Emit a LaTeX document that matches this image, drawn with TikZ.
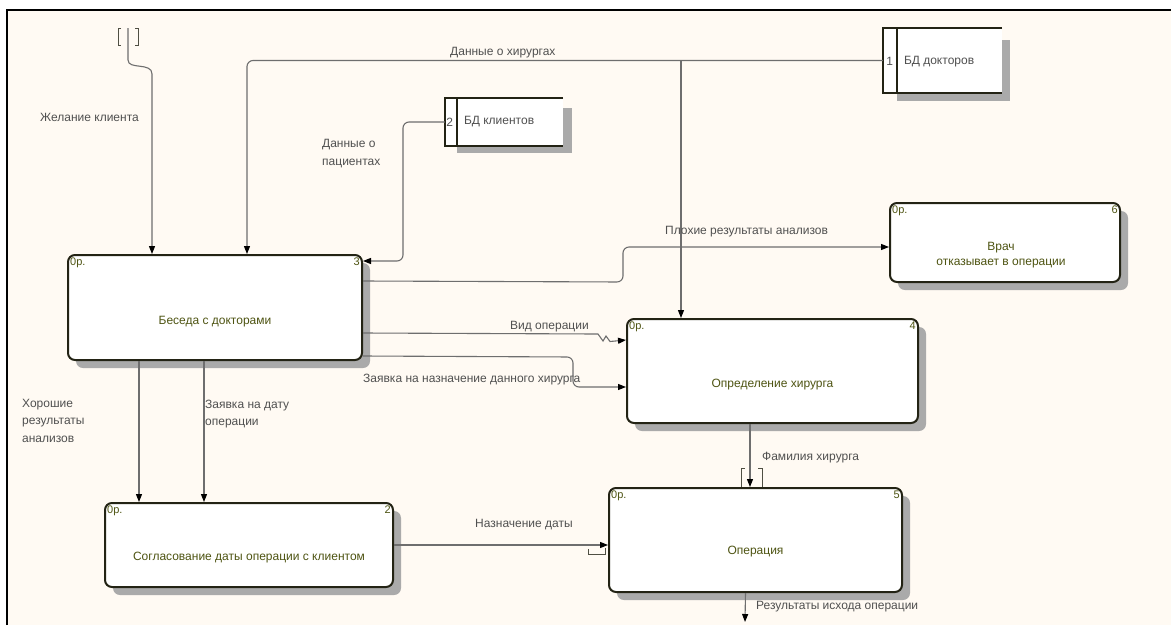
\documentclass[tikz,border=0pt]{standalone}
\usepackage{fontspec}
\setmainfont{Liberation Sans}
\usetikzlibrary{arrows.meta,shadows}
\definecolor{bgc}{RGB}{255,250,243}
\definecolor{linec}{RGB}{110,110,110}
\definecolor{boxc}{RGB}{35,35,20}
\definecolor{txtc}{RGB}{78,84,18}
\definecolor{lblc}{RGB}{80,80,80}
\definecolor{shc}{RGB}{170,170,170}
\begin{document}
\begin{tikzpicture}[x=1pt,y=-1pt,
  proc/.style={draw=boxc, line width=2pt, rounded corners=7pt, fill=white,
    drop shadow={shadow xshift=8pt, shadow yshift=-8pt, fill=shc, opacity=1},
    inner sep=0pt},
  store/.style={inner sep=0pt},
  ptxt/.style={font=\fontsize{12}{15}\selectfont, text=txtc, align=center, inner sep=0pt},
  cnr/.style={font=\fontsize{11}{12}\selectfont, text=txtc, inner sep=0pt},
  lbl/.style={font=\fontsize{12}{17.5}\selectfont, text=lblc, inner sep=0pt, align=left},
  flow/.style={draw=linec, line width=1.1pt, rounded corners=6pt,
    -{Triangle[length=8pt,width=6pt,color=black]}},
  brk/.style={draw=boxc!80, line width=1pt},
  stline/.style={draw=boxc, line width=1.8pt}
]
\useasboundingbox (0,0) rectangle (1171,625);
\fill[white] (0,0) rectangle (1171,625);
\fill[bgc] (7,10) rectangle (1171,625);
\draw[black, line width=2pt] (7,625) -- (7,10) -- (1171,10);

% ---------- data stores ----------
\node[store, minimum width=119pt, minimum height=64pt] (bd1) at (942.5,60.5) {};
\fill[shc] ([yshift=-12pt]bd1.north east) rectangle ([xshift=8pt,yshift=-8pt]bd1.south east);
\fill[shc] ([xshift=14pt]bd1.south west) rectangle ([xshift=8pt,yshift=-8pt]bd1.south east);
\fill[white] (bd1.north west) rectangle (bd1.south east);
\draw[stline] (bd1.north east) -- (bd1.north west) -- (bd1.south west) -- (bd1.south east);
\draw[stline] ([xshift=14pt]bd1.north west) -- ([xshift=14pt]bd1.south west);
\node[lbl] (bd1n) at ([xshift=7pt,yshift=-1pt]bd1.west) {1};
\node[lbl, anchor=west] (bd1t) at ([xshift=21pt,yshift=-1pt]bd1.west) {БД докторов};

\node[store, minimum width=118pt, minimum height=48pt] (bd2) at (504,122) {};
\fill[shc] ([yshift=-10pt]bd2.north east) rectangle ([xshift=9pt,yshift=-7pt]bd2.south east);
\fill[shc] ([xshift=12pt]bd2.south west) rectangle ([xshift=9pt,yshift=-7pt]bd2.south east);
\fill[white] (bd2.north west) rectangle (bd2.south east);
\draw[stline] (bd2.north east) -- (bd2.north west) -- (bd2.south west) -- (bd2.south east);
\draw[stline] ([xshift=12pt]bd2.north west) -- ([xshift=12pt]bd2.south west);
\node[lbl] (bd2n) at ([xshift=5pt]bd2.west) {2};
\node[lbl, anchor=west] (bd2t) at ([xshift=19pt]bd2.west) {БД клиентов};

% ---------- processes ----------
\node[proc, minimum width=294pt, minimum height=105pt] (p3) at (215,307.5) {};
\node[ptxt] (t3) at ([yshift=-14pt]p3.center) {Беседа с докторами};
\node[cnr, anchor=north west] (o3) at ([xshift=3pt,yshift=-4pt]p3.north west) {0р.};
\node[cnr, anchor=north east] (n3) at ([xshift=-3pt,yshift=-4pt]p3.north east) {3};

\node[proc, minimum width=230pt, minimum height=79pt] (p6) at (1005,242.5) {};
\node[ptxt] (t6) at ([xshift=-4pt,yshift=-13pt]p6.center) {Врач\\отказывает в операции};
\node[cnr, anchor=north west] (o6) at ([xshift=3pt,yshift=-4pt]p6.north west) {0р.};
\node[cnr, anchor=north east] (n6) at ([xshift=-3pt,yshift=-4pt]p6.north east) {6};

\node[proc, minimum width=291pt, minimum height=104pt] (p4) at (772.5,371) {};
\node[ptxt] (t4) at ([yshift=-14pt]p4.center) {Определение хирурга};
\node[cnr, anchor=north west] (o4) at ([xshift=3pt,yshift=-4pt]p4.north west) {0р.};
\node[cnr, anchor=north east] (n4) at ([xshift=-3pt,yshift=-4pt]p4.north east) {4};

\node[proc, minimum width=293pt, minimum height=104pt] (p5) at (755.5,540) {};
\node[ptxt] (t5) at ([yshift=-12pt]p5.center) {Операция};
\node[cnr, anchor=north west] (o5) at ([xshift=3pt,yshift=-4pt]p5.north west) {0р.};
\node[cnr, anchor=north east] (n5) at ([xshift=-3pt,yshift=-4pt]p5.north east) {5};

\node[proc, minimum width=288pt, minimum height=84pt] (p2) at (249,545) {};
\node[ptxt] (t2) at ([yshift=-13pt]p2.center) {Согласование даты операции с клиентом};
\node[cnr, anchor=north west] (o2) at ([xshift=3pt,yshift=-4pt]p2.north west) {0р.};
\node[cnr, anchor=north east] (n2) at ([xshift=-3pt,yshift=-4pt]p2.north east) {2};

% ---------- connectors ----------
% Желание клиента (tunnelled)
\coordinate (tun) at (128,28);
\draw[brk] (121,28) -- (118,28) -- (118,45) -- (121,45);
\draw[brk] (135,28) -- (138,28) -- (138,45) -- (135,45);
\coordinate (c1b) at (152,74);
\draw[flow, rounded corners=0pt] (tun) -- (128,60) .. controls (128,70) and (152,62) .. (c1b) -- (c1b |- p3.north);
\node[lbl, anchor=west] (l1) at (40,117) {Желание клиента};

% Данные о хирургах
\coordinate (s1) at (247,60.5);
\draw[flow] (bd1.west) -- (s1) -- (s1 |- p3.north);
\coordinate (js) at (681,60.5);
\draw[flow, rounded corners=0pt] (js) -- (js |- p4.north);
\node[lbl, anchor=west] (l2) at (450,53) {Данные о хирургах};

% Данные о пациентах
\coordinate (q1) at (403,122);
\coordinate (q2) at ([yshift=-7pt]p3.north east);
\draw[flow] (bd2.west) -- (q1) |- (q2);
\node[lbl, anchor=west, font=\fontsize{12}{18}\selectfont] (l3) at (322,154) {Данные о\\пациентах};

% Плохие результаты анализов
\coordinate (b1) at ([yshift=-27pt]p3.north east);
\coordinate (b2) at (623,282);
\draw[flow] (b1) -- (b2) |- ([yshift=-4.5pt]p6.west);
\node[lbl, anchor=west] (l4) at (665,232) {Плохие результаты анализов};

% Вид операции
\coordinate (v1) at ([yshift=-79pt]p3.north east);
\coordinate (v2) at ([yshift=-22pt]p4.north west);
\draw[flow, rounded corners=0pt] (v1) -- (598,334) -- (603,341) -- (606,336) -- (610,341.5) -- (v2);
\node[lbl, anchor=west] (l5) at (510,327) {Вид операции};

% Заявка на назначение данного хирурга
\coordinate (z1) at ([yshift=-102pt]p3.north east);
\coordinate (z2) at (573,357);
\draw[flow] (z1) -- (z2) |- ([yshift=-69pt]p4.north west);
\node[lbl, anchor=west] (l6) at (363,380) {Заявка на назначение данного хирурга};

% Хорошие результаты анализов
\coordinate (h1) at ([xshift=72pt]p3.south west);
\draw[flow] (h1) -- (h1 |- p2.north);
\node[lbl, anchor=west] (l7) at (22,420.5) {Хорошие\\результаты\\анализов};

% Заявка на дату операции
\coordinate (h2) at ([xshift=137pt]p3.south west);
\draw[flow] (h2) -- (h2 |- p2.north);
\node[lbl, anchor=west] (l8) at (205,414) {Заявка на дату\\операции};

% Фамилия хирурга (tunnelled)
\coordinate (f1) at ([xshift=-22.5pt]p4.south);
\draw[flow] (f1) -- (f1 |- p5.north);
\draw[brk] (745,468) -- (741,468) -- (741,487);
\draw[brk] (758,468) -- (762,468) -- (762,487);
\node[lbl, anchor=west] (l9) at (762,458) {Фамилия хирурга};

% Назначение даты
\coordinate (d1) at (p2.east);
\draw[flow] (d1) -- (d1 -| p5.west);
\draw[brk] (588,549) -- (588,554) -- (605,554) -- (605,548);
\node[lbl, anchor=west] (l10) at (475,525) {Назначение даты};

% Результаты исхода операции
\coordinate (r1) at ([xshift=-10pt]p5.south);
\coordinate (r2) at (745,622);
\draw[flow] (r1) -- (r2);
\node[lbl, anchor=west] (l11) at (756,607) {Результаты исхода операции};
\end{tikzpicture}
\end{document}
